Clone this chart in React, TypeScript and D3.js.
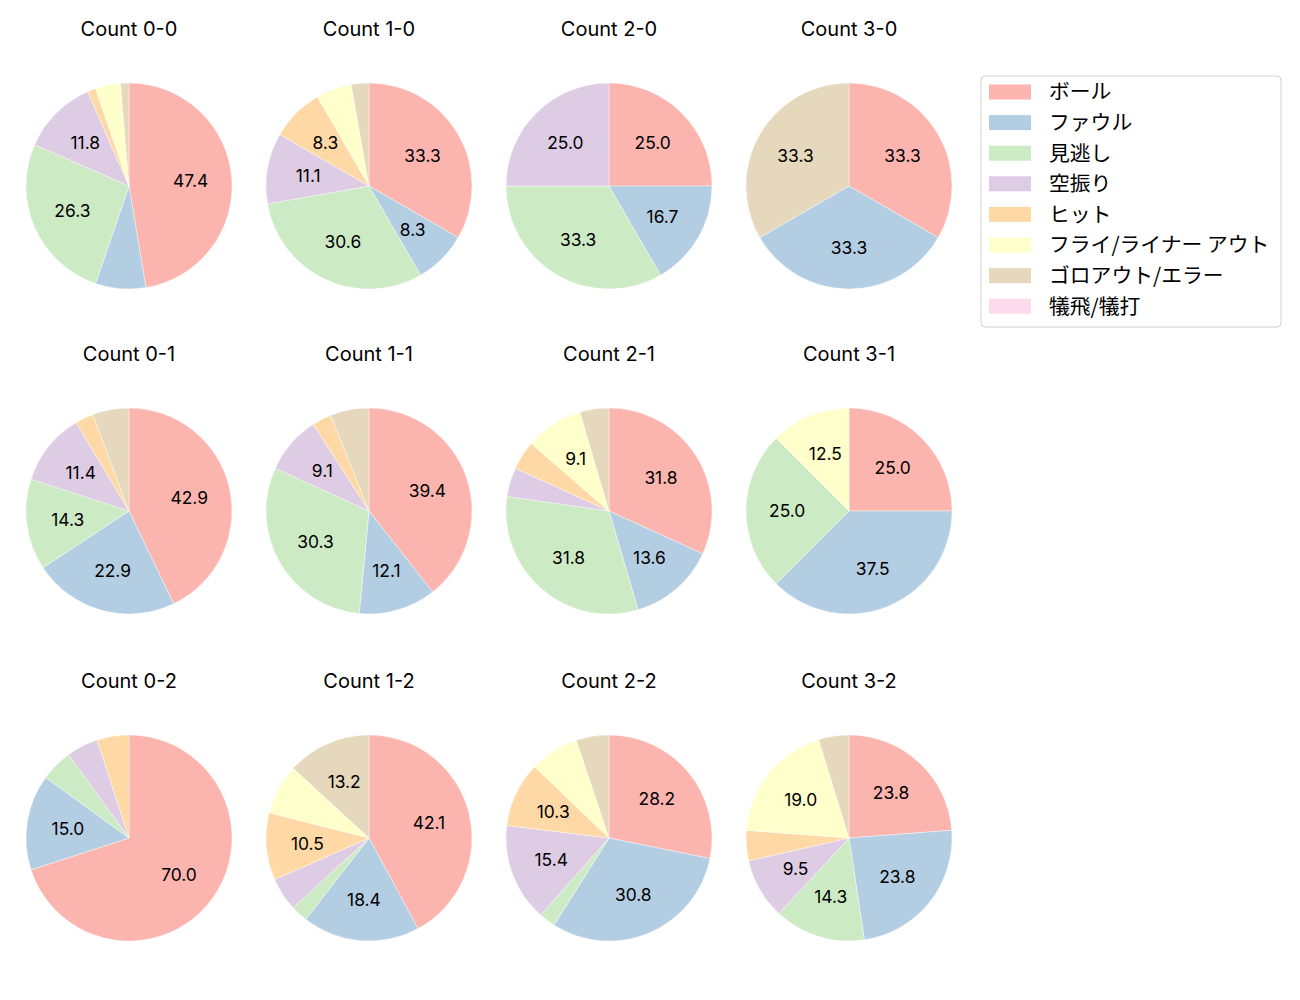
import React from "react";
import * as d3 from "d3";

const categories = ["ボール", "ファウル", "見逃し", "空振り", "ヒット", "フライ/ライナー アウト", "ゴロアウト/エラー", "犠飛/犠打"];
const colors = ["#fbb4ae", "#b3cde3", "#ccebc5", "#decbe4", "#fed9a6", "#ffffcc", "#e5d8bd", "#fddaec"];

const titles = [
  ["Count 0-0", "Count 1-0", "Count 2-0", "Count 3-0"],
  ["Count 0-1", "Count 1-1", "Count 2-1", "Count 3-1"],
  ["Count 0-2", "Count 1-2", "Count 2-2", "Count 3-2"],
];

const count00 = [36, 6, 20, 9, 1, 3, 1, 0];
const count10 = [12, 3, 11, 4, 3, 2, 1, 0];
const count20 = [3, 2, 4, 3, 0, 0, 0, 0];
const count30 = [1, 1, 0, 0, 0, 0, 1, 0];
const count01 = [15, 8, 5, 4, 1, 0, 2, 0];
const count11 = [13, 4, 10, 3, 1, 0, 2, 0];
const count21 = [7, 3, 7, 1, 1, 2, 1, 0];
const count31 = [2, 3, 2, 0, 0, 1, 0, 0];
const count02 = [14, 3, 1, 1, 1, 0, 0, 0];
const count12 = [16, 7, 1, 2, 4, 3, 5, 0];
const count22 = [11, 12, 1, 6, 4, 3, 2, 0];
const count32 = [5, 5, 3, 2, 1, 4, 1, 0];

const grid = [
  [count00, count10, count20, count30],
  [count01, count11, count21, count31],
  [count02, count12, count22, count32],
];

const LATIN = "Inter, 'Noto Sans', sans-serif";
const CJK = "'Noto Sans CJK JP', 'Noto Sans', sans-serif";

function Pie({ values, cx, cy, r, title }: { values: number[]; cx: number; cy: number; r: number; title: string }) {
  const total = d3.sum(values);
  const pie = d3.pie<number>().value((d) => d).sort(null).startAngle(0).endAngle(2 * Math.PI);
  const arcs = pie(values);
  const arc = d3.arc<d3.PieArcDatum<number>>().innerRadius(0).outerRadius(r);
  const labelArc = d3.arc<d3.PieArcDatum<number>>().innerRadius(r * 0.6).outerRadius(r * 0.6);
  const fs = 17.4;
  return (
    <g>
      <text x={cx} y={cy - 150.5} textAnchor="middle" fontSize={20} fontFamily={LATIN} fill="#000">
        {title}
      </text>
      <g transform={`translate(${cx},${cy})`}>
        {arcs.map((a, i) =>
          a.data > 0 ? <path key={i} d={arc(a) || ""} fill={colors[i]} stroke="#fff" strokeWidth={0.4} /> : null
        )}
        {arcs.map((a, i) => {
          const pct = (a.data / total) * 100;
          if (a.data <= 0 || pct < 8) return null;
          const [x, y] = labelArc.centroid(a);
          return (
            <text key={"t" + i} x={x} y={y + fs * 0.37} textAnchor="middle" fontSize={fs} fontFamily={LATIN} fill="#000">
              {pct.toFixed(1)}
            </text>
          );
        })}
      </g>
    </g>
  );
}

export default function App() {
  const xs = [129, 369, 609, 849];
  const ys = [186, 511, 838];
  const r = 103;
  const legendX = 981;
  const legendY = 76;
  return (
    <svg width={1300} height={1000} style={{ position: "absolute", left: 0, top: 0, background: "#fff" }}>
      <rect x={0} y={0} width={1300} height={1000} fill="#fff" />
      {grid.map((row, ri) =>
        row.map((vals, ci) => <Pie key={`${ri}-${ci}`} values={vals} cx={xs[ci]} cy={ys[ri]} r={r} title={titles[ri][ci]} />)
      )}
      <g>
        <rect x={legendX} y={legendY} width={300} height={251} rx={4} fill="#fff" stroke="#d0d0d0" strokeWidth={1} />
        {categories.map((c, i) => {
          const y = 92 + i * 30.6;
          return (
            <g key={c}>
              <rect x={989} y={y - 7.5} width={42} height={15} fill={colors[i]} />
              <text x={1049} y={y} dy="0.36em" fontSize={20.8} fontFamily={CJK} fill="#000">
                {c}
              </text>
            </g>
          );
        })}
      </g>
    </svg>
  );
}
